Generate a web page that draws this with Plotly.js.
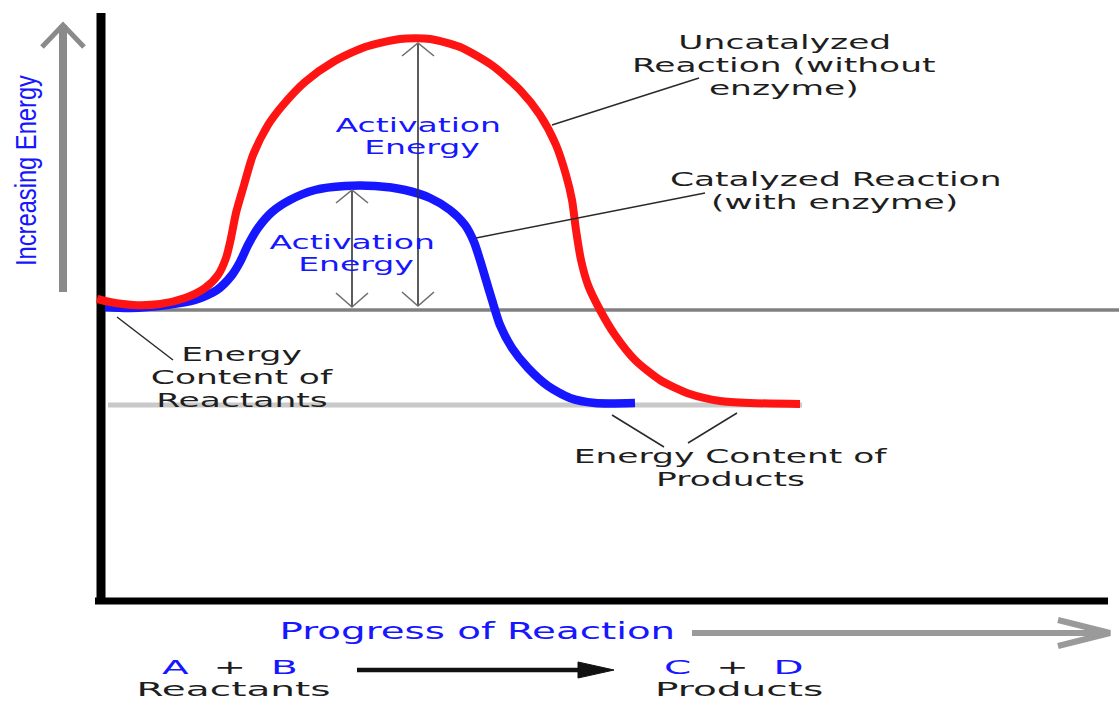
<!DOCTYPE html>
<html>
<head>
<meta charset="utf-8">
<script src="https://cdn.plot.ly/plotly-3.0.1.min.js"></script>
<style>
  html, body { margin: 0; padding: 0; background: #ffffff; }
  #chart { width: 1119px; height: 702px; }
  /* the reference artwork is horizontally stretched: widen the labels the same way */
  #chart .annotation .annotation-text {
    transform-box: fill-box;
    transform-origin: center;
    transform: scaleX(1.75);
  }
  #chart .annotation[data-index="0"] .annotation-text { transform: scaleY(1.25); }
  #chart .annotation[data-index="15"] .annotation-text { transform: scaleX(1.7); }
  #chart .annotation[data-index="16"] .annotation-text,
  #chart .annotation[data-index="17"] .annotation-text,
  #chart .annotation[data-index="18"] .annotation-text,
  #chart .annotation[data-index="19"] .annotation-text { transform: scaleX(2.0); }
</style>
</head>
<body>
<div id="chart"></div>
<script>
// ---------------- data (progress / energy in drawing units) ----------------
const uncatProgress = [97,110,133,160,185,205,218,226,231,236,244,253,268,283,305,333,365,400,430,460,493,520,540,556,566,572,576,581,588,600,615,635,660,690,720,750,800];
const uncatEnergy   = [403,400,397,398,404,414,427,444,464,489,517,547,577,597,620,640,655,663,663,655,636,612,587,557,527,502,472,442,417,392,367,342,322,308,301,299,298];

const catProgress = [105,130,167,195,217,232,240,248,258,272,290,315,345,375,405,430,450,465,474,480,486,492,500,512,528,548,570,595,635];
const catEnergy   = [395,394,397,402,412,427,440,457,474,490,502,512,516,516,512,504,492,477,460,442,422,402,377,354,334,316,304,299,299];

const reactantEnergy = 392;
const reactantSpan   = [100, 1119];
const productEnergy  = 297;
const productSpan    = [108, 802];

// activation-energy arrows: [uncatalyzed, catalyzed]
const activationX    = [418, 352];
const activationTop  = [659, 512];
const activationBase = [396, 395];

// axes frame
const frameX = [101, 101, 1108];
const frameE = [689, 101, 101];

// direction arrows
const energyArrowX = [63, 63];
const energyArrowE = [410, 677];
const progressArrowX = [692, 1110];
const progressArrowE = [69, 69];
const reactionArrowX = [357, 614];
const reactionArrowE = [32, 32];

// leader lines from labels to marks
const leaderX = [[552, 699], [476, 705], [117, 173], [612, 664], [737, 688]];
const leaderE = [[577, 624], [464, 509], [385, 342], [287, 255], [289, 259]];

// text
const yTitle = 'Increasing Energy';
const xTitle = 'Progress of Reaction';
const uncatLabel = ['Uncatalyzed', 'Reaction (without', 'enzyme)'];
const catLabel = ['Catalyzed Reaction', '(with enzyme)'];
const activationLabel = ['Activation', 'Energy'];
const reactantLabel = ['Energy', 'Content of', 'Reactants'];
const productLabel = ['Energy Content of', 'Products'];
const reactantSpecies = ['A', 'B'];
const productSpecies = ['C', 'D'];
const sideLabels = ['Reactants', 'Products'];

// ---------------- styling ----------------
const BLUE = '#1616ff';
const RED = '#ff1414';
const INK = '#1e1e1e';
const FONT = 'DejaVu Sans, Verdana, sans-serif';

function lineTrace(x, y, color, width, extra) {
  return Object.assign({
    type: 'scatter', mode: 'lines', x: x, y: y,
    line: { color: color, width: width },
    hoverinfo: 'skip', showlegend: false
  }, extra || {});
}
function chevron(tx, ty, dir, half, depth) {
  if (dir === 'up')    return { x: [tx - half, tx, tx + half], y: [ty - depth, ty, ty - depth] };
  if (dir === 'down')  return { x: [tx - half, tx, tx + half], y: [ty + depth, ty, ty + depth] };
  return { x: [tx - depth, tx, tx - depth], y: [ty + half, ty, ty - half] };
}

const traces = [];
// reference levels
traces.push(lineTrace(productSpan, [productEnergy, productEnergy], '#c9c9c9', 5));
traces.push(lineTrace(reactantSpan, [reactantEnergy, reactantEnergy], '#808080', 3.5));
// frame
traces.push(lineTrace(frameX.slice(0, 2), frameE.slice(0, 2), '#000000', 9));
traces.push(lineTrace([frameX[1] - 6, frameX[2]], frameE.slice(1), '#000000', 7));
// curves
traces.push(lineTrace(catProgress, catEnergy, BLUE, 8.5, { line: { color: BLUE, width: 8.5, shape: 'spline', smoothing: 0.7 } }));
traces.push(lineTrace(uncatProgress, uncatEnergy, RED, 8, { line: { color: RED, width: 8, shape: 'spline', smoothing: 0.7 } }));
// activation arrows
for (let i = 0; i < activationX.length; i++) {
  traces.push(lineTrace([activationX[i], activationX[i]], [activationBase[i], activationTop[i]], '#333333', 1.6));
  const up = chevron(activationX[i], activationTop[i], 'up', 16, 13);
  const dn = chevron(activationX[i], activationBase[i], 'down', 16, 14);
  traces.push(lineTrace(up.x, up.y, '#6e6e6e', 1.6));
  traces.push(lineTrace(dn.x, dn.y, '#6e6e6e', 1.6));
}
// leader lines
for (let i = 0; i < leaderX.length; i++) {
  traces.push(lineTrace(leaderX[i], leaderE[i], '#2a2a2a', 1.5));
}
// energy direction arrow
traces.push(lineTrace(energyArrowX, energyArrowE, '#8a8a8a', 8));
(function () {
  const c = chevron(energyArrowX[1], energyArrowE[1], 'up', 21, 22);
  traces.push(lineTrace(c.x, c.y, '#8a8a8a', 5));
})();
// progress direction arrow
traces.push(lineTrace(progressArrowX, progressArrowE, '#9a9a9a', 6));
(function () {
  const c = chevron(progressArrowX[1], progressArrowE[1], 'right', 13, 52);
  traces.push(lineTrace(c.x, c.y, '#9a9a9a', 6));
})();
// reaction arrow (shaft + filled head)
(function () {
  const tip = reactionArrowX[1], e = reactionArrowE[0], headLen = 36, headHalf = 8;
  traces.push(lineTrace([reactionArrowX[0], tip - headLen + 2], reactionArrowE, '#111111', 4.5));
  traces.push({
    type: 'scatter', mode: 'lines', fill: 'toself', fillcolor: '#111111',
    x: [tip - headLen, tip, tip - headLen, tip - headLen],
    y: [e + headHalf, e, e - headHalf, e + headHalf],
    line: { color: '#111111', width: 1 }, hoverinfo: 'skip', showlegend: false
  });
})();

// ---------------- annotations ----------------
function ann(text, x, y, size, color, family, extra) {
  return Object.assign({
    x: x, y: y, xref: 'x', yref: 'y', text: text, showarrow: false,
    xanchor: 'center', yanchor: 'middle', borderpad: 0,
    font: { family: family || FONT, size: size, color: color }
  }, extra || {});
}
const sp = '\u00a0\u00a0';
const LBL = 19.7, ACT = 18.9, BOT = 19.5;
const annotations = [
  /* 0 */ ann(yTitle, 26, 531, 23.7, BLUE, 'Liberation Sans, Arial, sans-serif', { textangle: -90 }),
  // uncatalyzed label
  /* 1 */ ann(uncatLabel[0], 785, 660, LBL, INK),
  /* 2 */ ann(uncatLabel[1], 784, 637, LBL, INK),
  /* 3 */ ann(uncatLabel[2], 784, 614, LBL, INK),
  // catalyzed label
  /* 4 */ ann(catLabel[0], 835, 523, LBL, INK),
  /* 5 */ ann(catLabel[1], 834, 500, LBL, INK),
  // activation energies
  /* 6 */ ann(activationLabel[0], 418, 577, ACT, BLUE),
  /* 7 */ ann(activationLabel[1], 422, 555, ACT, BLUE),
  /* 8 */ ann(activationLabel[0], 352, 460, ACT, BLUE),
  /* 9 */ ann(activationLabel[1], 356, 438, ACT, BLUE),
  // reactant energy
  /* 10 */ ann(reactantLabel[0], 241, 348, LBL, INK),
  /* 11 */ ann(reactantLabel[1], 242, 325, LBL, INK),
  /* 12 */ ann(reactantLabel[2], 242, 302, LBL, INK),
  // product energy
  /* 13 */ ann(productLabel[0], 731, 246, LBL, INK),
  /* 14 */ ann(productLabel[1], 730, 223, LBL, INK),
  // x title
  /* 15 */ ann(xTitle, 477, 71, 22.8, BLUE),
  // equation
  /* 16 */ ann('<span style="color:' + BLUE + '">' + reactantSpecies[0] + '</span>' + sp + '+' + sp +
      '<span style="color:' + BLUE + '">' + reactantSpecies[1] + '</span>', 230, 35, BOT, INK),
  /* 17 */ ann(sideLabels[0], 233, 12.5, BOT, INK),
  /* 18 */ ann('<span style="color:' + BLUE + '">' + productSpecies[0] + '</span>' + sp + '+' + sp +
      '<span style="color:' + BLUE + '">' + productSpecies[1] + '</span>', 734, 35, BOT, INK),
  /* 19 */ ann(sideLabels[1], 739, 12.5, BOT, INK)
];

const layout = {
  width: 1119, height: 702,
  margin: { l: 0, r: 0, t: 0, b: 0, pad: 0 },
  paper_bgcolor: '#ffffff', plot_bgcolor: '#ffffff',
  showlegend: false,
  xaxis: { range: [0, 1119], visible: false, fixedrange: true },
  yaxis: { range: [0, 702], visible: false, fixedrange: true },
  annotations: annotations
};

Plotly.newPlot('chart', traces, layout, { displayModeBar: false, staticPlot: true });
</script>
</body>
</html>
